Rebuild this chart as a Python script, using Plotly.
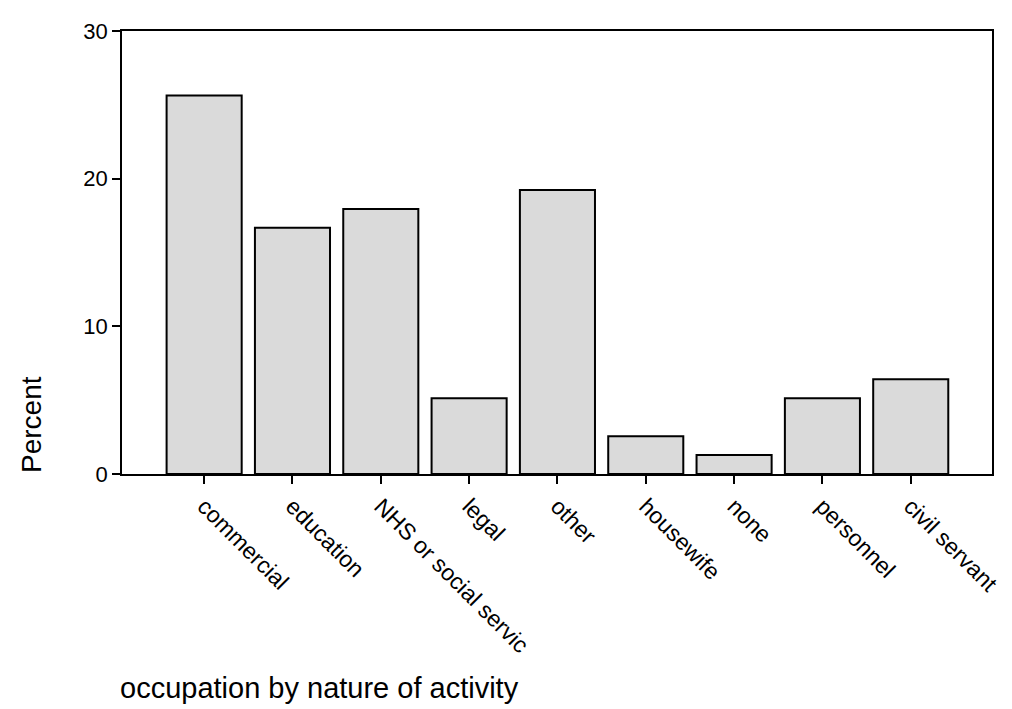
import plotly.graph_objects as go

categories = ["commercial", "education", "NHS or social servic", "legal", "other",
              "housewife", "none", "personnel", "civil servant"]
percent = [25.64, 16.67, 17.95, 5.13, 19.23, 2.56, 1.28, 5.13, 6.41]
y_ticks = [0, 10, 20, 30]

FONT = "Liberation Sans, Arial, sans-serif"

fig = go.Figure(go.Bar(
    x=list(range(len(categories))),
    y=percent,
    width=0.85,
    marker=dict(color="#dadada", line=dict(color="black", width=2)),
    hoverinfo="skip",
))

fig.update_layout(
    width=1012, height=709,
    margin=dict(l=114, r=28, t=23, b=243),
    paper_bgcolor="white", plot_bgcolor="white",
    showlegend=False,
    font=dict(family=FONT, color="black", size=20),
    xaxis=dict(
        range=[-0.93, 8.92],
        tickmode="array",
        tickvals=list(range(len(categories))),
        ticktext=categories,
        tickangle=45,
        ticks="outside", ticklen=8, tickwidth=1.5, tickcolor="black",
        showline=True, linecolor="black", linewidth=1.5, mirror=True,
        showgrid=False, zeroline=False,
        tickfont=dict(size=23, family=FONT),
    ),
    yaxis=dict(
        range=[0, 30],
        tickmode="array",
        tickvals=y_ticks,
        ticktext=[str(v) for v in y_ticks],
        ticks="outside", ticklen=8, tickwidth=1.5, tickcolor="black",
        showline=True, linecolor="black", linewidth=1.5, mirror=True,
        showgrid=False, zeroline=False,
        tickfont=dict(size=22, family=FONT),
    ),
    annotations=[
        dict(text="Percent", xref="paper", yref="paper", x=-0.1033, y=0.111,
             xanchor="center", yanchor="middle", textangle=-90, showarrow=False,
             font=dict(size=28, family=FONT)),
        dict(text="occupation by nature of activity", xref="paper", yref="paper",
             x=-0.0046, y=-0.483, xanchor="left", yanchor="middle", showarrow=False,
             font=dict(size=29, family=FONT)),
    ],
)

fig.write_html("out.html")
